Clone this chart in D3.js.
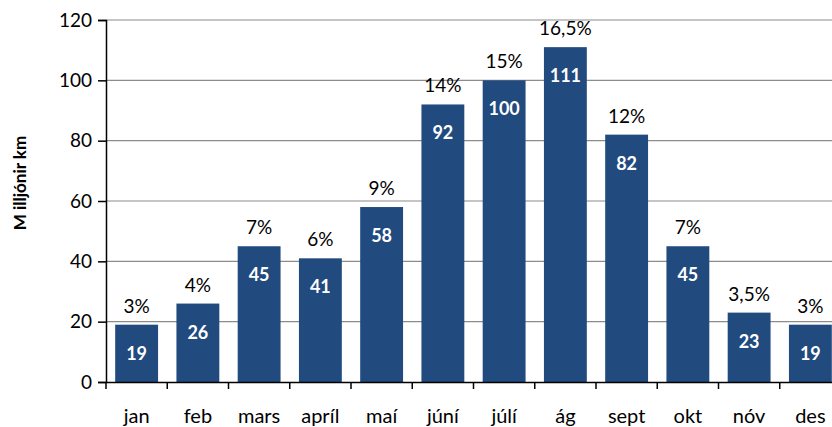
<!DOCTYPE html>
<html>
<head>
<meta charset="utf-8">
<script src="https://cdn.jsdelivr.net/npm/d3@7"></script>
<style>
  body { margin: 0; background: #fff; }
  text { font-family: Lato, "Open Sans", sans-serif; }
</style>
</head>
<body>
<script>
// data
var months = ["jan", "feb", "mars", "apríl", "maí", "júní", "júlí", "ág", "sept", "okt", "nóv", "des"];
var values = [19, 26, 45, 41, 58, 92, 100, 111, 82, 45, 23, 19];
var shares = ["3%", "4%", "7%", "6%", "9%", "14%", "15%", "16,5%", "12%", "7%", "3,5%", "3%"];
var yTicks = [0, 20, 40, 60, 80, 100, 120];

var W = 832, H = 427;
var plotLeft = 106, plotRight = 841, plotTop = 20, plotBottom = 382;

var svg = d3.select("body").append("svg")
    .attr("width", W)
    .attr("height", H);

var x = d3.scaleBand().domain(months).range([plotLeft, plotRight]).paddingInner(0.3).paddingOuter(0.15);
var y = d3.scaleLinear().domain([0, 120]).range([plotBottom, plotTop]);

// gridlines
svg.append("g").selectAll("line")
    .data(yTicks.slice(1))
  .enter().append("line")
    .attr("x1", plotLeft).attr("x2", W)
    .attr("y1", function(d) { return y(d); })
    .attr("y2", function(d) { return y(d); })
    .attr("stroke", "#8c8c8c")
    .attr("stroke-width", 1.2);

// bars
var data = months.map(function(m, i) { return {m: m, v: values[i], p: shares[i]}; });

svg.append("g").selectAll("rect")
    .data(data)
  .enter().append("rect")
    .attr("x", function(d) { return x(d.m); })
    .attr("width", x.bandwidth())
    .attr("y", function(d) { return y(d.v); })
    .attr("height", function(d) { return plotBottom - y(d.v); })
    .attr("fill", "#214a7e");

// value labels inside bars
svg.append("g").selectAll("text")
    .data(data)
  .enter().append("text")
    .attr("x", function(d) { return x(d.m) + x.bandwidth() / 2; })
    .attr("y", function(d) { return y(d.v) + 35; })
    .attr("text-anchor", "middle")
    .attr("fill", "#fff")
    .style("font-weight", "bold")
    .style("font-size", "18px")
    .text(function(d) { return d.v; });

// percentage labels above bars
svg.append("g").selectAll("text")
    .data(data)
  .enter().append("text")
    .attr("x", function(d) { return x(d.m) + x.bandwidth() / 2; })
    .attr("y", function(d) { return y(d.v) - 12; })
    .attr("text-anchor", "middle")
    .attr("fill", "#000")
    .style("font-size", "19px")
    .text(function(d) { return d.p; });

// x axis
var xAxis = svg.append("g")
    .attr("transform", "translate(0," + plotBottom + ")")
    .call(d3.axisBottom(x).tickSize(0).tickPadding(27));
xAxis.select(".domain").attr("stroke", "#000").attr("stroke-width", 1.5);
xAxis.selectAll("text").style("font-size", "20px").attr("fill", "#000");

// category separators on x axis
var step = (plotRight - plotLeft) / months.length;
svg.append("g").selectAll("line")
    .data(d3.range(months.length + 1))
  .enter().append("line")
    .attr("x1", function(i) { return plotLeft + i * step; })
    .attr("x2", function(i) { return plotLeft + i * step; })
    .attr("y1", plotBottom).attr("y2", plotBottom + 7)
    .attr("stroke", "#000").attr("stroke-width", 1.5);

// y axis
var yAxis = svg.append("g")
    .attr("transform", "translate(" + plotLeft + ",0)")
    .call(d3.axisLeft(y).tickValues(yTicks).tickSize(8).tickPadding(6));
yAxis.select(".domain").attr("stroke", "#000").attr("stroke-width", 1.5);
yAxis.selectAll(".tick line").attr("stroke", "#000").attr("stroke-width", 1.5);
yAxis.selectAll("text").style("font-size", "19px").attr("fill", "#000");

// y axis title
svg.append("text")
    .attr("transform", "translate(26,183) rotate(-90)")
    .attr("text-anchor", "middle")
    .style("font-weight", "bold")
    .style("font-size", "17px")
    .text("M illjónir km");
</script>
</body>
</html>
